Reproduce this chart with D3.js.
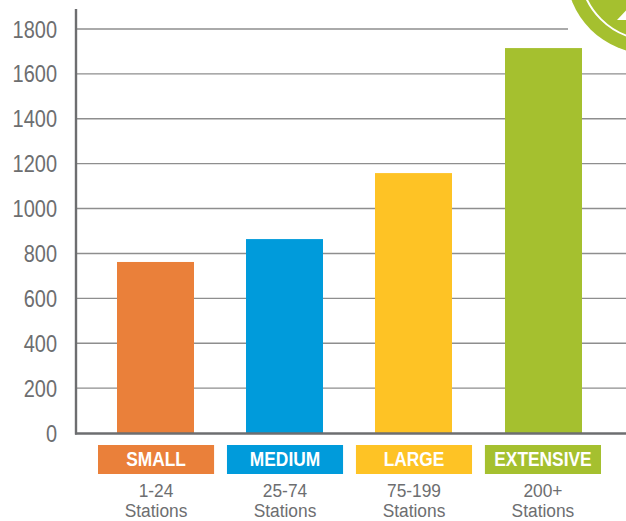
<!DOCTYPE html>
<html>
<head>
<meta charset="utf-8">
<script src="https://cdn.jsdelivr.net/npm/d3@7"></script>
<style>
  html, body { margin: 0; padding: 0; background: #fff; }
  svg { display: block; }
  text { font-family: "Liberation Sans", Arial, sans-serif; }
</style>
</head>
<body>
<svg id="chart" width="626" height="521"></svg>
<script>
const tiers = ["SMALL", "MEDIUM", "LARGE", "EXTENSIVE"];
const counts = [762, 864, 1158, 1715];
const ranges = ["1-24", "25-74", "75-199", "200+"];
const tierColors = ["#ea803a", "#009bdb", "#fec325", "#a5c02f"];
const yTicks = [0, 200, 400, 600, 800, 1000, 1200, 1400, 1600, 1800];

const svg = d3.select("#chart");
const y = d3.scaleLinear().domain([0, 1800]).range([433, 29]);
const x = d3.scaleBand().domain(tiers).range([117, 581.6]).paddingInner(0.404).paddingOuter(0);
const tabs = d3.scaleBand().domain(tiers).range([98, 601]).paddingInner(0.1);

// Corner emblem, clipped by the page edge
const emblem = svg.append("g").attr("transform", "translate(650,-30)");
emblem.append("circle").attr("r", 84).attr("fill", "#a5c02f");
emblem.append("circle").attr("r", 69.5).attr("fill", "none").attr("stroke", "#fff").attr("stroke-width", 2);
emblem.append("path").attr("d", "M-33,50 L-14,50 L-14,30 Z").attr("fill", "#fff");

// Horizontal grid
svg.append("g").selectAll("line").data(yTicks.filter(d => d > 0)).join("line")
  .attr("x1", 76).attr("y1", d => y(d)).attr("y2", d => y(d))
  .attr("x2", d => d === 1800 ? 568 : 626)
  .attr("stroke", "#8e8e8e").attr("stroke-width", 1.4);

// Bars
svg.append("g").selectAll("rect").data(tiers).join("rect")
  .attr("x", d => Math.round(x(d))).attr("width", 77)
  .attr("y", (d, i) => y(counts[i]))
  .attr("height", (d, i) => y(0) - y(counts[i]))
  .attr("fill", (d, i) => tierColors[i]);

// Axis lines
const axisColor = "#6d6e70";
svg.append("line").attr("x1", 76).attr("x2", 76).attr("y1", 9).attr("y2", 434.5)
  .attr("stroke", axisColor).attr("stroke-width", 2.4);
svg.append("line").attr("x1", 75).attr("x2", 626).attr("y1", 433.5).attr("y2", 433.5)
  .attr("stroke", axisColor).attr("stroke-width", 2.4);

// Value labels on the y axis
svg.append("g").selectAll("text").data(yTicks).join("text")
  .attr("x", 57).attr("y", d => y(d) + 8.5)
  .attr("text-anchor", "end").attr("font-size", 24).attr("fill", "#6d6e70")
  .attr("textLength", d => String(d).length * 11.1).attr("lengthAdjust", "spacingAndGlyphs")
  .text(d => d);

// Category tabs and their station ranges
const mid = tabs.bandwidth() / 2;
const squeeze = `translate(${mid},0) scale(0.89,1) translate(${-mid},0)`;
const squeezeSmall = `translate(${mid},0) scale(0.913,1) translate(${-mid},0)`;
const tab = svg.append("g").selectAll("g").data(tiers).join("g")
  .attr("transform", d => `translate(${tabs(d)},445)`);
tab.append("rect").attr("width", tabs.bandwidth()).attr("height", 29)
  .attr("fill", (d, i) => tierColors[i]);
tab.append("text").attr("x", mid).attr("y", 21.5)
  .attr("text-anchor", "middle").attr("font-size", 19.5).attr("font-weight", 700).attr("fill", "#fff")
  .attr("transform", squeeze)
  .text(d => d);
tab.append("text").attr("x", mid).attr("y", 52)
  .attr("text-anchor", "middle").attr("font-size", 19).attr("fill", "#6d6e70")
  .attr("transform", squeezeSmall)
  .text((d, i) => ranges[i]);
tab.append("text").attr("x", mid).attr("y", 71.9)
  .attr("text-anchor", "middle").attr("font-size", 19).attr("fill", "#6d6e70")
  .attr("transform", squeezeSmall)
  .text("Stations");
</script>
</body>
</html>
